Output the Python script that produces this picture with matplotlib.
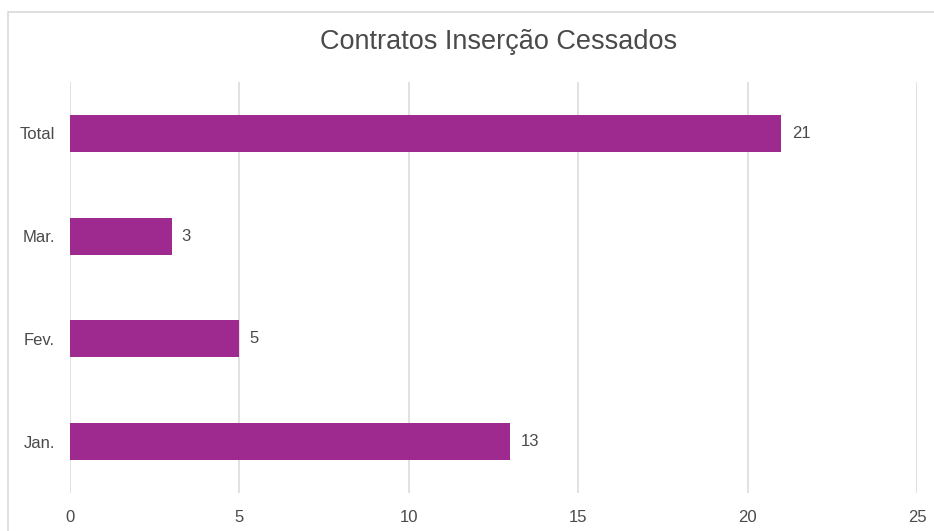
import matplotlib
matplotlib.use("Agg")
import matplotlib.pyplot as plt
from matplotlib.patches import Rectangle

categories = ["Jan.", "Fev.", "Mar.", "Total"]
values = [13, 5, 3, 21]
x_ticks = [0, 5, 10, 15, 20, 25]

BAR_COLOR = "#9e2a8f"
GRID_COLOR = "#dcdcdc"
TEXT_COLOR = "#4a4a4a"

plt.rcParams["font.family"] = ["Liberation Sans", "DejaVu Sans"]

fig = plt.figure(figsize=(9.34, 5.31), dpi=100)
W, H = 934, 531

# outer card border
fig.patches.append(Rectangle((8 / W, -0.1), 1.2, 1.1 - 12 / H,
                             transform=fig.transFigure, fill=False,
                             edgecolor="#d9d9d9", linewidth=1.2))

ax = fig.add_axes([70 / W, 1 - 493 / H, (917 - 70) / W, (493 - 82) / H])
ypos = range(len(categories))
ax.barh(ypos, values, height=0.36, color=BAR_COLOR, zorder=2)

for y, v in zip(ypos, values):
    ax.text(v + 0.3, y, str(v), va="center", ha="left",
            fontsize=12, color=TEXT_COLOR)

ax.set_xlim(0, 25)
ax.set_ylim(-0.5, len(categories) - 0.5)
ax.set_xticks(x_ticks)
ax.set_yticks(list(ypos))
ax.set_yticklabels(categories)
ax.tick_params(axis="both", length=0, labelsize=12, colors=TEXT_COLOR)
ax.tick_params(axis="x", pad=12)
ax.tick_params(axis="y", pad=11)
ax.grid(axis="x", color=GRID_COLOR, linewidth=1.2, zorder=0)
for s in ax.spines.values():
    s.set_visible(False)

fig.text(499 / W, 1 - 42 / H, "Contratos Inserção Cessados",
         ha="center", va="center", fontsize=19.5, color=TEXT_COLOR)

fig.savefig("out.png", dpi=100)
